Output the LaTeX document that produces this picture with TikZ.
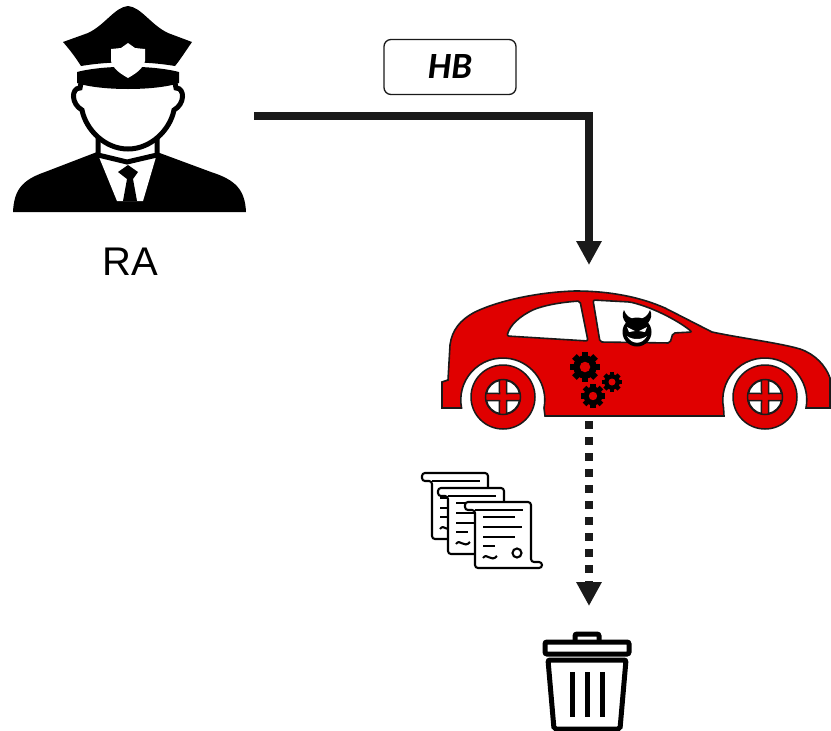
\documentclass[tikz,border=0pt]{standalone}
\usepackage{fontspec}
\setmainfont{Liberation Sans}
\newfontfamily\hbfont{Carlito}
\usepackage{tikz}
\usetikzlibrary{arrows.meta}
\definecolor{carred}{RGB}{224,0,0}
\definecolor{ink}{RGB}{26,26,26}

% gear: centre, tooth radius
\newcommand{\gear}[2]{%
  \begin{scope}[shift={#1}]
    \fill[black] (0,0) circle ({0.78*#2});
    \foreach \a in {0,45,...,315}
      \fill[black, rotate=\a] (-0.22*#2,0) rectangle (0.22*#2,#2);
    \fill[carred] (0,0) circle ({0.35*#2});
  \end{scope}}

% wheel with four-window hub
\newcommand{\wheel}[1]{%
  \begin{scope}[shift={#1}]
    \filldraw[fill=carred, draw=ink, line width=1.5] (0,0) circle (32);
    \draw[ink, line width=1.5] (0,0) circle (17.5);
    \foreach \a in {0,90,180,270}
      \filldraw[fill=white, draw=ink, line width=1.5, rotate=\a]
        (3.5,3.5) -- (78:17) arc[start angle=78, end angle=12, radius=17] -- cycle;
  \end{scope}}

% rolled document
\newcommand{\scroll}[1]{%
  \begin{scope}[shift={#1}, line width=2.1]
    \filldraw[fill=white, rounded corners=3] (10,8) -- (0,8) -- (0,0) -- (66,0)
      -- (66,60) -- (77,60) -- (77,66) -- (10,66) -- cycle;
    \draw (10,8) -- (58,8);
    \draw (18,15) -- (50,15) (18,25) -- (57,25) (18,35) -- (50,35) (18,44) -- (30,44);
    \draw (18,56) .. controls (22,50) and (26,61) .. (32,54);
    \draw (52,51) circle (4.5);
  \end{scope}}

\begin{document}
\begin{tikzpicture}[x=1pt, y=-1pt,
  flow/.style={draw=ink, line width=7.5, -{Triangle[length=24pt,width=24pt]}},
  hbbox/.style={draw=ink, line width=1.3, rounded corners=7, fill=white,
    minimum width=132, minimum height=55, font=\hbfont\bfseries\itshape\fontsize{37}{40}\selectfont},
  carline/.style={draw=ink, line width=1.6}]
  \useasboundingbox (0,0) rectangle (831,731);

  % officer
  \fill (13,212) .. controls (14,190) and (22,180) .. (45,172) -- (97,152)
    -- (157,152) -- (211,172) .. controls (236,180) and (245,190) .. (246,212) -- cycle;
  \fill[white] (99,157) -- (127,163) -- (156,157) -- (143,201) -- (117,201) -- cycle;
  \fill (128,165) -- (138,172) -- (133,179) -- (137,201) -- (123,201) -- (127,179) -- (118,172) -- cycle;
  \filldraw[fill=white, line width=5] (98,130) -- (98,155) -- (127,162) -- (157,155) -- (157,130);
  \filldraw[fill=white, line width=5] (82,78) -- (80,88) .. controls (71,88) and (71,104) .. (82,110)
    .. controls (86,130) and (105,149) .. (128,149) .. controls (151,149) and (170,130) .. (174,110)
    .. controls (185,104) and (185,88) .. (176,88) -- (174,78) -- cycle;
  \fill (77,72) .. controls (104,65) and (152,65) .. (179,72) -- (179,83)
    .. controls (156,91) and (100,91) .. (77,83) -- cycle;
  \fill (63,42) -- (88,33) .. controls (105,25) and (115,7) .. (128,6)
    .. controls (141,7) and (151,25) .. (168,33) -- (192,42)
    .. controls (185,52) and (180,60) .. (175,66) .. controls (145,61) and (111,61) .. (81,66)
    .. controls (76,58) and (70,50) .. cycle;
  \fill[white] (111,49) -- (121,48) -- (128,43) -- (135,48) -- (145,49) -- (145,61)
    .. controls (143,69) and (135,74) .. (128,78) .. controls (121,74) and (113,69) .. (111,61) -- cycle;
  \node[font=\fontsize{40}{44}\selectfont] (ralabel) at (130,262) {RA};

  \node[hbbox] (hb) at (450,67) {HB};

  % car
  \filldraw[carline, fill=carred] (442,408) -- (442,382) -- (448,380) -- (450,345)
    .. controls (452,330) and (460,320) .. (475,312) .. controls (500,300) and (540,292) .. (575,291)
    .. controls (610,291) and (640,297) .. (665,308) -- (712,332)
    .. controls (740,338) and (780,343) .. (800,349) .. controls (815,354) and (826,366) .. (830,378)
    -- (830,408) -- (806,408) arc[start angle=11, end angle=-191, radius=42]
    -- (724,416) -- (545,416) -- (544,408) arc[start angle=11, end angle=-191, radius=42]
    -- cycle;
  \filldraw[carline, fill=white, rounded corners=2] (507,336) .. controls (510,325) and (520,316) .. (535,309)
    .. controls (550,304) and (565,302) .. (580,301) -- (588,341) -- cycle;
  \filldraw[carline, fill=white, rounded corners=2] (593,300) -- (600,342) -- (670,343) -- (673,333)
    -- (692,332) .. controls (680,322) and (655,308) .. (630,302) -- cycle;
  \wheel{(503,397)}
  \wheel{(765,397)}
  \gear{(585,367)}{15}
  \gear{(612,382)}{10}
  \gear{(593,396)}{12}
  % driver
  \fill (637,332) circle (14.5);
  \fill (626,323) .. controls (622,318) and (622,314) .. (624,310)
    .. controls (626,316) and (630,318) .. (634,319) -- cycle;
  \fill (648,323) .. controls (652,318) and (652,314) .. (650,310)
    .. controls (648,316) and (644,318) .. (640,319) -- cycle;
  \fill[white] (627,327) -- (635,331) -- (629,332) -- cycle;
  \fill[white] (647,327) -- (639,331) -- (645,332) -- cycle;
  \fill[white] (627,336) .. controls (632,345) and (642,345) .. (647,336)
    .. controls (642,340) and (632,340) .. cycle;

  % documents
  \scroll{(422,473)}
  \scroll{(438,488)}
  \scroll{(465,502)}

  % bin
  \begin{scope}[line width=5, rounded corners=2]
    \draw (575,641) -- (575,634) -- (599,634) -- (599,641);
    \draw (545,642) rectangle (629,654);
    \draw (548,660) -- (626,660) -- (620,729) -- (554,729) -- cycle;
    \draw (572,672) -- (572,717) (587,672) -- (587,717) (602,672) -- (602,717);
  \end{scope}

  % connectors
  \coordinate (raout) at (254,116);
  \coordinate (carin) at (589,265);
  \coordinate (carout) at (589,421);
  \coordinate (binin) at (589,606);
  \draw[flow] (raout) -| (carin);
  \draw[flow, dash pattern=on 7.5pt off 8.5pt] (carout) -- (binin);
\end{tikzpicture}
\end{document}
